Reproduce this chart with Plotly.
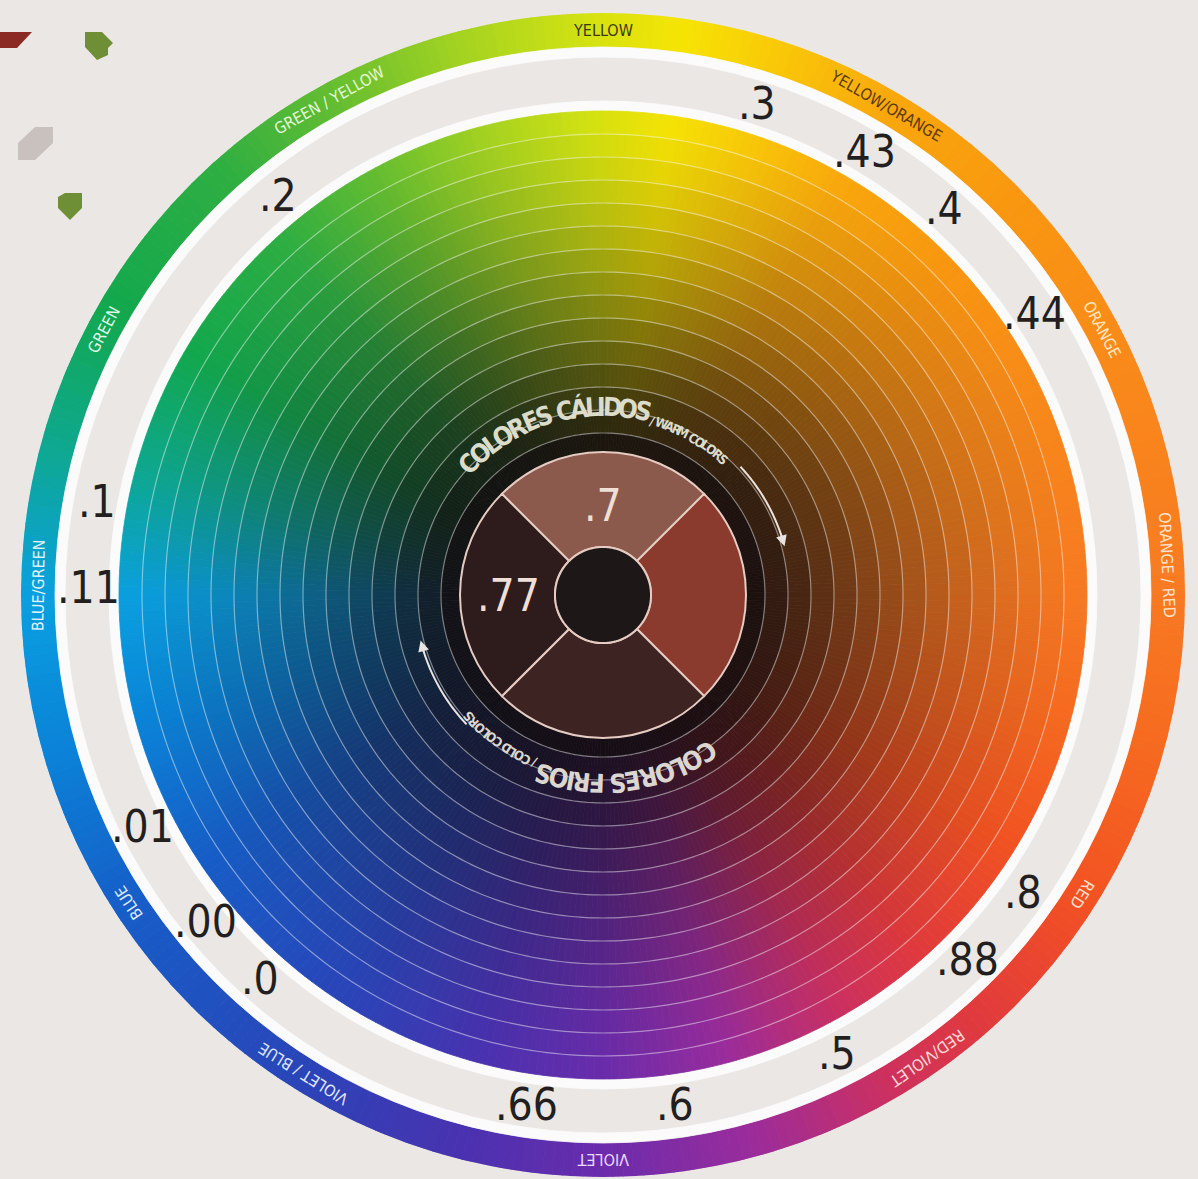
import numpy as np
import plotly.graph_objects as go

# ---------------- data ----------------
hue_labels = ["YELLOW", "YELLOW/ORANGE", "ORANGE", "ORANGE / RED", "RED", "RED/VIOLET",
              "VIOLET", "VIOLET / BLUE", "BLUE", "BLUE/GREEN", "GREEN", "GREEN / YELLOW"]
hue_label_deg = [90, 60, 28, 3, 328, 305, 270, 238, 213, 179, 152, 119]
hue_label_color = ["#3b3a14", "#5c3a0e", "#ffe6c0", "#ffe2c8", "#ffe0d0", "#ffd8d8",
                   "#e8dcff", "#dfe6ff", "#dfeaff", "#e0f4ff", "#dff7e6", "#e6f8d8"]

value_labels = [".3", ".43", ".4", ".44", ".8", ".88", ".5", ".6", ".66",
                ".0", ".00", ".01", ".11", ".1", ".2"]
value_deg = [72.6, 59.5, 48.6, 33.1, 324.7, 315, 297, 278, 261.5,
             228.2, 219.4, 206.7, 179.2, 169.5, 129.2]

center_labels = [".7", "", "", ".77"]          # top, right, bottom, left
center_deg = [90, 0, 270, 180]
center_colors = ["#8b5a4d", "#8a3b2e", "#3e2323", "#2e1b1b"]

warm_title = ["COLORES CÁLIDOS", " / WARM COLORS"]
cold_title = ["COLORES FRIOS", " / COLD COLORS"]

# ---------------- style / geometry ----------------
W, H = 1198, 1179
CX, CY = 603, 595
R_OUT, R_RING_IN = 582, 548
R_DISC = 484
RING_STEP = 23
R_DONUT, R_HOLE = 143, 48
BG = "#ebe7e4"

stop_deg = [0, 28, 45, 60, 72, 82, 92, 105, 118, 132, 150, 165, 180, 195, 213,
            238, 255, 270, 285, 300, 312, 328, 345, 360]
stop_col = ["#f87a22", "#f98c18", "#f9980f", "#f9a80c", "#f9c808", "#f6e404", "#d2e212",
            "#a2d222", "#66be30", "#2eae42", "#12a84e", "#0ea890", "#0aa0e0", "#0a84d8",
            "#165ec8", "#2a44b8", "#4832b0", "#6a2cac", "#9a2c9c", "#cc3060", "#e23a3c",
            "#f25222", "#f66a20", "#f87a22"]
stop_rgb = np.array([[int(c[i:i + 2], 16) for i in (1, 3, 5)] for c in stop_col], float)
DARK = np.array([18, 12, 14], float)


def hue_rgb(deg):
    d = np.mod(deg, 360)
    return np.array([np.interp(d, stop_deg, stop_rgb[:, k]) for k in range(3)])


def to_hex(rgb):
    rgb = np.clip(np.round(rgb), 0, 255).astype(int)
    return "#%02x%02x%02x" % tuple(rgb)


def shade(r):
    t = np.clip((r - 140) / (R_DISC - 140), 0, 1)
    return 1 - (1 - t) ** 1.5


theta_c = np.arange(0.5, 360, 1.0)
hues = [hue_rgb(t) for t in theta_c]

fig = go.Figure()

# outer hue ring
ring_cols = [to_hex(h) for h in hues]
fig.add_trace(go.Barpolar(theta=theta_c, r=[R_OUT - R_RING_IN] * 360, base=[R_RING_IN] * 360,
                          width=[1.0] * 360,
                          marker=dict(color=ring_cols, line=dict(color=ring_cols, width=0.8)),
                          hoverinfo="skip", showlegend=False))

# white bands
for b0, b1 in [(538, R_RING_IN), (R_DISC, 494)]:
    fig.add_trace(go.Barpolar(theta=[45, 135, 225, 315], r=[b1 - b0] * 4, base=[b0] * 4,
                              width=[90] * 4,
                              marker=dict(color="#fbfbfb", line=dict(color="#fbfbfb", width=0.8)),
                              hoverinfo="skip", showlegend=False))

# disc rings
bounds = list(range(R_DISC, 160, -RING_STEP)) + [140]
for ro, ri in zip(bounds[:-1], bounds[1:]):
    f = shade((ro + ri) / 2)
    cols = [to_hex(DARK * (1 - f) + h * f) for h in hues]
    fig.add_trace(go.Barpolar(theta=theta_c, r=[ro - ri] * 360, base=[ri] * 360, width=[1.0] * 360,
                              marker=dict(color=cols, line=dict(color=cols, width=0.8)),
                              hoverinfo="skip", showlegend=False))

# white ring lines
circ = np.linspace(0, 360, 361)
for rb in bounds[1:-1]:
    fig.add_trace(go.Scatterpolar(r=[rb] * len(circ), theta=circ, mode="lines",
                                  line=dict(color="rgba(255,255,255,0.45)", width=1.2),
                                  hoverinfo="skip", showlegend=False))

# center donut
fig.add_trace(go.Barpolar(theta=center_deg, r=[R_DONUT - R_HOLE] * 4, base=[R_HOLE] * 4,
                          width=[90] * 4,
                          marker=dict(color=center_colors, line=dict(color="#e6cbc2", width=2)),
                          hoverinfo="skip", showlegend=False))
fig.add_trace(go.Scatterpolar(r=[R_HOLE] * len(circ), theta=circ, mode="lines", fill="toself",
                              fillcolor="#1d1717", line=dict(color="#e6cbc2", width=2),
                              hoverinfo="skip", showlegend=False))

# arrows (arcs)
ARC_R = 188
for a0, a1 in [(43, 18), (223.5, 197)]:
    th = np.linspace(a0, a1, 40)
    fig.add_trace(go.Scatterpolar(r=[ARC_R] * len(th), theta=th, mode="lines",
                                  line=dict(color="#e9e4e0", width=2),
                                  hoverinfo="skip", showlegend=False))

fig.add_trace(go.Scatter(x=[], y=[], showlegend=False))


def xy(r, deg):
    a = np.radians(deg)
    return float(r * np.cos(a)), float(r * np.sin(a))


ann = []
NARROW = "DejaVu Sans Condensed, Liberation Sans Narrow, sans-serif"

for head, tail in [(15, 19), (194, 198)]:
    hx, hy = xy(ARC_R, head)
    tx, ty = xy(ARC_R, tail)
    ann.append(dict(x=hx, y=hy, ax=tx, ay=ty, xref="x", yref="y", axref="x", ayref="y",
                    text="", showarrow=True, arrowhead=2, arrowsize=1.1, arrowwidth=2,
                    arrowcolor="#e9e4e0"))

# hue labels on outer ring
for lab, d, c in zip(hue_labels, hue_label_deg, hue_label_color):
    x, y = xy((R_OUT + R_RING_IN) / 2, d)
    ann.append(dict(x=x, y=y, xref="x", yref="y", text=lab, showarrow=False,
                    textangle=90 - d, xanchor="center", yanchor="middle",
                    font=dict(family=NARROW, size=16, color=c)))

# values around the wheel
for lab, d in zip(value_labels, value_deg):
    x, y = xy(515, d)
    ann.append(dict(x=x, y=y, xref="x", yref="y", text=lab, showarrow=False,
                    xanchor="center", yanchor="middle",
                    font=dict(family=NARROW, size=44, color="#231f20")))

# center values
for lab, d, rr in zip(center_labels, center_deg, [90, 0, 0, 95]):
    if lab:
        x, y = xy(rr, d)
        ann.append(dict(x=x, y=y, xref="x", yref="y", text=lab, showarrow=False,
                        xanchor="center", yanchor="middle",
                        font=dict(family=NARROW, size=44, color="#efdfd6")))

# curved titles
CW = {"C": 722, "O": 778, "L": 556, "R": 722, "E": 667, "S": 667, " ": 278, "A": 667,
      "Á": 667, "I": 278, "D": 722, "/": 278, "W": 944, "M": 833, "F": 611, "Í": 278}


def arc_text(parts, sizes, radii, start, end, color):
    chars = []
    for p, s, rr in zip(parts, sizes, radii):
        for ch in p:
            chars.append((ch, s, rr, CW.get(ch, 650) * s / 1000 * 0.82))
    total = sum(c[3] for c in chars)
    span = np.radians(abs(end - start)) * 186
    scale = span / total
    sign = -1 if end < start else 1
    acc = 0
    for ch, s, rr, w in chars:
        mid = (acc + w / 2) * scale
        d = start + sign * np.degrees(mid / 186)
        acc += w
        if ch == " ":
            continue
        x, y = xy(rr, d)
        ann.append(dict(x=x, y=y, xref="x", yref="y", text=ch, showarrow=False,
                        textangle=90 - d, xanchor="center", yanchor="middle",
                        font=dict(family=NARROW, size=s, color=color, weight="bold")))


arc_text(warm_title, [26, 13], [188, 181], 138, 47.5, "#dcdccb")
arc_text(cold_title, [26, 13], [188, 181], 306, 221, "#dcd6d0")

# decorative chips (top-left)
chips = [
    ([(0, 32), (32, 32), (17, 48), (-5, 48)], "#8b2a22"),
    ([(85, 32), (102, 32), (113, 43), (108, 48), (108, 55), (97, 60), (85, 47)], "#6e8f35"),
    ([(18, 143), (35, 127), (53, 127), (53, 143), (35, 160), (18, 160)], "#c9c1bd"),
    ([(58, 197), (65, 193), (82, 193), (82, 208), (70, 220), (58, 208)], "#6e8f35"),
]
shapes = []
for pts, col in chips:
    path = "M " + " L ".join(f"{px - CX},{CY - py}" for px, py in pts) + " Z"
    shapes.append(dict(type="path", path=path, xref="x", yref="y", fillcolor=col,
                       line=dict(width=0)))

fig.update_layout(
    width=W, height=H, margin=dict(l=0, r=0, t=0, b=0),
    paper_bgcolor=BG, plot_bgcolor="rgba(0,0,0,0)",
    showlegend=False,
    xaxis=dict(range=[-CX, W - CX], domain=[0, 1], visible=False, fixedrange=True),
    yaxis=dict(range=[-(H - CY), CY], domain=[0, 1], visible=False, fixedrange=True),
    polar=dict(
        domain=dict(x=[(CX - R_OUT) / W, (CX + R_OUT) / W],
                    y=[(H - CY - R_OUT) / H, (H - CY + R_OUT) / H]),
        bgcolor="rgba(0,0,0,0)", hole=0,
        radialaxis=dict(range=[0, R_OUT], visible=False),
        angularaxis=dict(visible=False, rotation=0, direction="counterclockwise"),
        bargap=0,
    ),
    annotations=ann, shapes=shapes,
)

fig.write_html("out.html", config={"displayModeBar": False},
               post_script="document.body.style.margin='0px';document.body.style.background='%s';" % BG)
